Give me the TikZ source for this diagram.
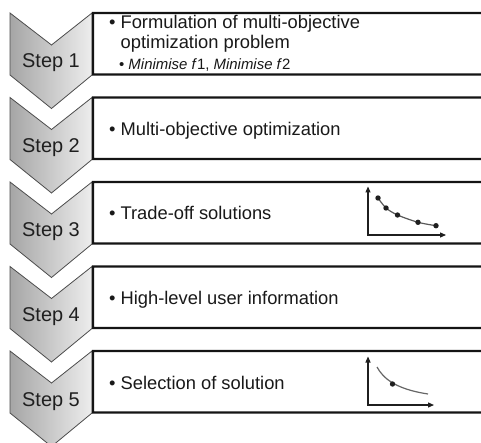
\documentclass[tikz,border=0pt]{standalone}
\usepackage{fontspec}
\setmainfont{Liberation Sans}
\usetikzlibrary{arrows.meta}
\begin{document}
\begin{tikzpicture}[x=1bp,y=-1bp,
  chev/.style={left color=gray!70, right color=gray!14, draw=black!70, line width=0.8bp, line join=miter},
  boxline/.style={draw=black!92, line width=2.2bp, fill=white},
  maintext/.style={anchor=base west, inner sep=0pt, text=black!90, font=\fontsize{18.4}{22}\selectfont},
  subtext/.style={anchor=base west, inner sep=0pt, text=black!90, font=\fontsize{15}{18}\selectfont},
  steplbl/.style={anchor=base, inner sep=0pt, text=black!88, font=\fontsize{20}{24}\selectfont},
  axes/.style={draw=black!88, line width=1.2bp, {Triangle[length=6bp,width=5bp]}-{Triangle[length=6bp,width=5bp]}},
  curve/.style={draw=black!65, line width=1.2bp},
  dot/.style={fill=black!88}]
\useasboundingbox (0,0) rectangle (481,443);
% chevrons and boxes
\foreach \k/\lbl in {1/Step 1,2/Step 2,3/Step 3,4/Step 4,5/Step 5}{
  \pgfmathsetmacro\T{13+(\k-1)*84.5}
  \pgfmathsetmacro\B{\T+61.5}
  \draw[chev] (10,\T) -- (51.5,\T+32) -- (92,\T) -- (92,\B+0.5) -- (51.5,\B+34) -- (10,\B+0.5) -- cycle;
  \draw[boxline] (93,\T) -- (93,\B) -- (478,\B) .. controls (484,\B) .. (484,\B-6) -- (484,\T+6) .. controls (484,\T) .. (478,\T) -- cycle;
  \node[steplbl] (step\k) at (51,\T+55) {\lbl};
}
% texts
\node[maintext] (t1a) at (108.9,29) {• Formulation of multi-objective};
\node[maintext] (t1b) at (120.5,49) {optimization problem};
\node[subtext] (t1c) at (118.9,70) {• \textit{Minimise f}1, \textit{Minimise f}2};
\node[maintext] (t2) at (108.9,97+38.5) {• Multi-objective optimization};
\node[maintext] (t3) at (108.9,182+38) {• Trade-off solutions};
\node[maintext] (t4) at (108.9,266.5+38) {• High-level user information};
\node[maintext] (t5) at (108.9,351+38) {• Selection of solution};
% plot in step 3
\coordinate (p3o) at (368,235);
\coordinate (p3y) at (368,186.5);
\coordinate (p3x) at (446,235);
\draw[axes] (p3y) -- (p3o) -- (p3x);
\draw[curve] plot[smooth] coordinates {(378,198) (386,208) (397.5,215) (418,222.3) (436,225.7)};
\foreach \px/\py in {378/198,386/208,397.5/215,418/222.3,436/225.7}
  \fill[dot] (\px,\py) circle[radius=2.7];
% plot in step 5
\coordinate (p5o) at (368,405);
\coordinate (p5y) at (368,356.5);
\coordinate (p5x) at (434,405);
\draw[axes] (p5y) -- (p5o) -- (p5x);
\draw[curve, draw=black!60] (377,367) .. controls (383,378) and (395,389) .. (428,394);
\fill[dot] (392.5,384) circle[radius=2.7];
\end{tikzpicture}
\end{document}
